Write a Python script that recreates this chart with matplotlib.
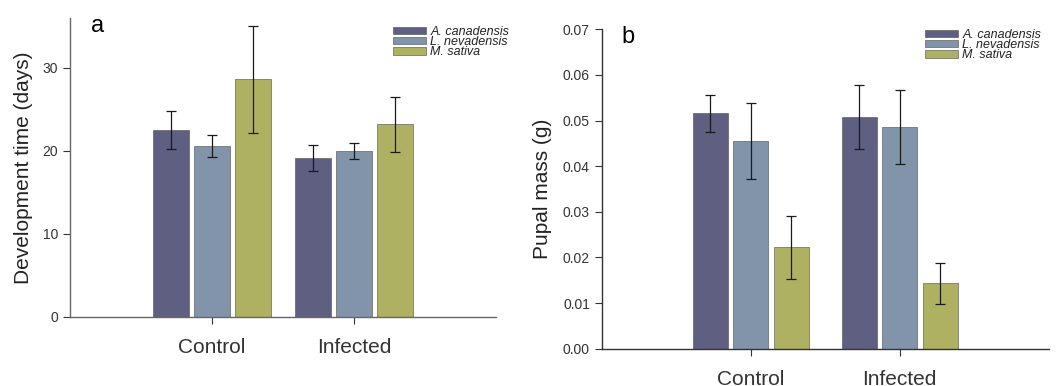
import numpy as np
import matplotlib.pyplot as plt

plt.rcParams["font.family"] = ["Liberation Sans", "DejaVu Sans"]

groups = ["Control", "Infected"]
species = ["A. canadensis", "L. nevadensis", "M. sativa"]
colors = ["#5f5f82", "#8194aa", "#aeb062"]

# panel a: development time (days)
dev_mean = {
    "A. canadensis": [22.5, 19.1],
    "L. nevadensis": [20.6, 20.0],
    "M. sativa": [28.6, 23.2],
}
dev_err = {
    "A. canadensis": [2.3, 1.55],
    "L. nevadensis": [1.35, 1.0],
    "M. sativa": [6.4, 3.3],
}

# panel b: pupal mass (g)
mass_mean = {
    "A. canadensis": [0.0516, 0.0507],
    "L. nevadensis": [0.0455, 0.0486],
    "M. sativa": [0.0222, 0.0143],
}
mass_err = {
    "A. canadensis": [0.0040, 0.0070],
    "L. nevadensis": [0.0083, 0.0081],
    "M. sativa": [0.0069, 0.0044],
}

fig = plt.figure(figsize=(10.56, 3.86), dpi=100)
ax_a = fig.add_axes([70 / 1056, 1 - 317 / 386, 426 / 1056, 299 / 386])
ax_b = fig.add_axes([601.7 / 1056, 1 - 348.7 / 386, 447 / 1056, 319.4 / 386])

x = np.arange(1, len(groups) + 1)


def draw_panel(ax, means, errs, width, step):
    for i, sp in enumerate(species):
        pos = x + (i - 1) * step
        ax.bar(pos, means[sp], width=width, color=colors[i], edgecolor="#4a4a4a",
               linewidth=0.4, label=sp, zorder=2)
        ax.errorbar(pos, means[sp], yerr=errs[sp], fmt="none", ecolor="#1a1a1a",
                    elinewidth=0.9, capsize=3.5, capthick=0.9, zorder=3)
    ax.set_xlim(0, 3)
    ax.set_xticks(x)
    ax.set_xticklabels(groups, fontsize=15)
    for s in ["top", "right"]:
        ax.spines[s].set_visible(False)
    ax.tick_params(axis="x", length=5, pad=10, colors="#333333")
    ax.tick_params(axis="y", length=5, labelsize=10, colors="#333333")
    for s in ["left", "bottom"]:
        ax.spines[s].set_linewidth(1.0)


draw_panel(ax_a, dev_mean, dev_err, 0.254, 0.289)
for s in ["left", "bottom"]:
    ax_a.spines[s].set_color("#666666")
ax_a.set_ylim(0, 36)
ax_a.set_yticks([0, 10, 20, 30])
ax_a.set_ylabel("Development time (days)", fontsize=15, color="#222222")
ax_a.yaxis.set_label_coords(-0.087, 0.5)
ax_a.text(0.05, 1.01, "a", transform=ax_a.transAxes, fontsize=17, va="top", ha="left")

draw_panel(ax_b, mass_mean, mass_err, 0.237, 0.272)
for s in ["left", "bottom"]:
    ax_b.spines[s].set_color("#333333")
ax_b.set_ylim(0, 0.07)
ax_b.set_yticks(np.arange(0, 0.071, 0.01))
ax_b.yaxis.set_major_formatter(plt.FormatStrFormatter("%.2f"))
ax_b.set_ylabel("Pupal mass (g)", fontsize=15, color="#222222")
ax_b.yaxis.set_label_coords(-0.111, 0.5)
ax_b.text(0.045, 1.01, "b", transform=ax_b.transAxes, fontsize=17, va="top", ha="left")

for ax, anchor in [(ax_a, (393 / 1056, 1 - 26 / 386)), (ax_b, (925 / 1056, 1 - 29 / 386))]:
    leg = ax.legend(loc="upper left", bbox_to_anchor=anchor, bbox_transform=fig.transFigure,
                    frameon=False, fontsize=9, labelspacing=-0.15, handlelength=2.6,
                    handleheight=0.55, handletextpad=0.4, borderpad=0, borderaxespad=0)
    for t in leg.get_texts():
        t.set_fontstyle("italic")
        t.set_color("#222222")

fig.savefig("out.png", dpi=100)
